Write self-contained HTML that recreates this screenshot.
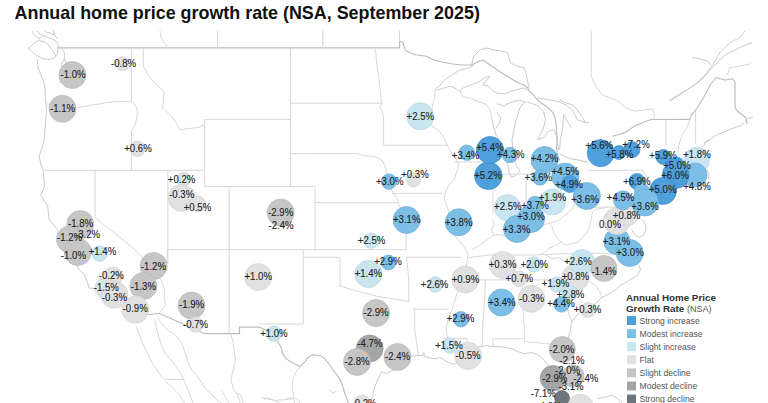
<!DOCTYPE html>
<html><head><meta charset="utf-8"><style>
html,body{margin:0;padding:0;background:#fff;}
body{width:768px;height:403px;overflow:hidden;position:relative;font-family:"Liberation Sans",sans-serif;}
.title{position:absolute;left:14.6px;top:0;font-weight:bold;font-size:17.9px;color:#111;white-space:nowrap;line-height:1;}
svg{position:absolute;left:0;top:0;}
.lb text{font-family:"Liberation Sans",sans-serif;font-size:10.4px;fill:#222;stroke:#222;stroke-width:0.1px;text-anchor:middle;}
.li{font-family:"Liberation Sans",sans-serif;font-size:8.6px;fill:#555;}
.lt{font-family:"Liberation Sans",sans-serif;font-size:9.8px;font-weight:bold;fill:#333;}
</style></head><body>
<svg width="768" height="403" viewBox="0 0 768 403">
<g fill="none" stroke-linejoin="round" stroke-linecap="round"><polyline stroke="#bcbcbc" stroke-width="1.15" points="57.5,47.8 399.6,47.8"/><polyline stroke="#bcbcbc" stroke-width="1.15" points="399.5,47.6 399.5,41.0 402.8,42.5 405.2,50.0 409.0,52.5 416.5,55.0 426.5,56.2 434.0,60.0 444.0,62.5 451.5,63.8 461.5,65.0 471.5,65.0 479.0,61.2 482.8,60.0 497.5,70.0 505.0,75.0 511.2,78.8 517.5,82.5 524.0,85.0 527.7,88.0 529.7,92.0 532.7,94.0 535.7,97.9 539.6,101.9 545.6,105.8 550.6,109.8 553.6,113.8 555.5,119.8 556.5,129.7 557.4,140.0 556.5,148.0 558.0,156.0 559.5,160.0"/><polyline stroke="#bcbcbc" stroke-width="1.15" points="130.2,316.3 159.7,313.5 204.4,333.6 239.5,333.6 239.5,327.1 260.1,327.1"/><polyline stroke="#d8d8d8" stroke-width="1" points="160.0,31.0 161.0,37.5 165.0,43.8 168.0,47.6"/><polyline stroke="#d8d8d8" stroke-width="1" points="217.5,31.0 217.5,47.6"/><polyline stroke="#d8d8d8" stroke-width="1" points="322.8,31.0 322.8,47.6"/><polyline stroke="#d8d8d8" stroke-width="1" points="399.5,31.0 399.5,41.0"/><polyline stroke="#d8d8d8" stroke-width="1" points="591.2,31.5 591.2,76.2 595.0,85.0 602.5,95.0 612.5,98.8 620.0,102.5 625.0,107.5 635.0,111.2 645.0,110.0 652.5,108.8 654.5,115.0 654.0,119.3"/><polyline stroke="#bcbcbc" stroke-width="1.15" points="612.9,136.0 619.9,134.3 625.0,132.6 630.3,129.0 635.5,125.6 644.0,122.0 651.0,119.5 689.5,119.4"/><polyline stroke="#bcbcbc" stroke-width="1.15" points="689.5,119.4 692.5,113.8 697.5,107.5 705.0,95.0 710.0,85.0 716.2,77.5 720.0,78.8 725.0,80.0 732.5,78.8 735.0,82.5 735.0,107.5 737.5,111.2 742.5,115.0 746.0,118.0 747.0,124.0"/><polyline stroke="#c4c4c4" stroke-width="0.9" points="670.0,100.0 680.0,93.8 695.0,85.0 705.0,75.0 712.5,65.0 720.0,52.5 730.0,42.5 740.0,37.5 745.0,31.0"/><polyline stroke="#c4c4c4" stroke-width="0.9" points="670.0,101.2 685.0,91.2 700.0,81.2 715.0,65.0 725.0,55.0 740.0,47.5 752.0,42.5"/><polyline stroke="#c4c4c4" stroke-width="0.9" points="692.5,57.5 700.0,58.8 707.5,61.2 711.2,65.0"/><polyline stroke="#d8d8d8" stroke-width="1" points="727.5,75.0 730.0,67.5 740.0,66.2 750.0,63.8"/><polyline stroke="#c4c4c4" stroke-width="0.9" points="537.7,97.9 549.6,99.9 559.5,101.9 567.5,105.8 573.4,111.8 577.4,119.8 583.4,121.8 588.4,122.7"/><polyline stroke="#c4c4c4" stroke-width="0.9" points="560.0,100.0 565.0,102.5 572.5,105.0 577.5,110.0 582.5,117.5 585.0,122.5"/><polyline stroke="#c4c4c4" stroke-width="0.9" points="563.5,113.8 567.5,121.8 571.4,127.7"/><polyline stroke="#c4c4c4" stroke-width="0.9" points="563.5,115.8 562.5,129.7 560.5,139.6 559.5,149.6"/><polyline stroke="#c4c4c4" stroke-width="0.9" points="559.0,153.4 569.5,158.6 580.0,160.3 587.0,162.0"/><polyline stroke="#c4c4c4" stroke-width="0.9" points="37.1,59.3 38.2,68.1 42.5,79.0 44.7,85.3 45.3,91.5 45.3,97.2 46.5,110.9 45.2,126.0 44.4,138.5 42.2,147.4 39.0,156.3 40.8,163.7 43.2,170.3 43.5,174.4 44.4,186.6 40.9,195.7 47.7,205.9 49.1,219.4 57.5,229.5 58.2,234.2 64.2,237.6 65.0,242.6 70.2,250.3 72.9,252.7 71.6,255.8 76.6,264.9 79.2,269.9 84.4,274.4 87.1,281.4 89.2,288.1 98.6,288.7 103.6,290.8 109.9,294.3 113.3,294.8 114.3,298.2 117.0,298.5 120.7,300.7 123.1,302.7 127.1,306.5 128.4,311.6 130.2,316.3"/><polyline stroke="#d8d8d8" stroke-width="1" points="46.0,103.8 62.0,106.0 77.5,107.5 100.0,103.8 110.0,102.0 131.5,101.2"/><polyline stroke="#d8d8d8" stroke-width="1" points="131.5,47.6 131.5,101.2 135.0,105.0 137.5,110.0 137.0,117.5 135.0,125.0 131.5,131.0 131.5,170.2"/><polyline stroke="#d8d8d8" stroke-width="1" points="143.2,47.8 143.2,66.0 146.0,70.7 148.3,75.4 154.2,82.5 161.3,89.5 164.2,91.9 163.2,101.3 162.5,108.4 166.0,110.8 170.8,115.5 175.5,121.4 180.2,129.6 189.6,128.4 199.0,127.3 203.8,124.9 204.7,128.2"/><polyline stroke="#d8d8d8" stroke-width="1" points="43.5,170.3 204.7,170.3"/><polyline stroke="#d8d8d8" stroke-width="1" points="204.7,119.6 204.7,186.6 315.0,186.6 315.0,202.7 397.6,202.7"/><polyline stroke="#d8d8d8" stroke-width="1" points="204.7,119.6 290.5,119.6"/><polyline stroke="#d8d8d8" stroke-width="1" points="290.5,47.8 290.5,186.6"/><polyline stroke="#d8d8d8" stroke-width="1" points="290.5,103.2 382.3,103.2"/><polyline stroke="#d8d8d8" stroke-width="1" points="229.2,186.6 229.2,333.6"/><polyline stroke="#d8d8d8" stroke-width="1" points="167.9,170.3 167.9,249.7 167.9,263.4"/><polyline stroke="#d8d8d8" stroke-width="1" points="167.9,249.7 406.1,249.7"/><polyline stroke="#d8d8d8" stroke-width="1" points="315.0,202.7 315.0,249.7"/><polyline stroke="#d8d8d8" stroke-width="1" points="303.3,249.7 303.3,324.0 259.0,324.0"/><polyline stroke="#d8d8d8" stroke-width="1" points="303.3,257.3 340.1,257.3 340.1,286.5"/><polyline stroke="#d8d8d8" stroke-width="1" points="95.0,170.2 95.0,217.5 107.5,227.5 120.0,237.5 132.5,247.5 142.5,257.5 152.0,267.0 161.0,280.0 165.0,290.0 163.8,297.5 165.5,305.0 160.0,312.5 161.2,314.3"/><polyline stroke="#d8d8d8" stroke-width="1" points="167.6,249.5 167.6,262.0 165.0,270.0"/><polyline stroke="#d8d8d8" stroke-width="1" points="136.2,326.2 139.6,335.4 143.1,344.6 147.7,353.9 152.3,363.1 157.0,370.0 161.6,377.0 166.2,381.6 173.1,388.5 180.0,395.5 184.7,403.0"/><polyline stroke="#d8d8d8" stroke-width="1" points="154.6,319.2 157.0,330.8 160.4,342.3 165.0,353.9 169.7,358.5 175.4,365.4 180.0,372.4 182.4,377.0 186.0,385.0 190.0,395.0 193.0,403.0"/><polyline stroke="#d8d8d8" stroke-width="1" points="157.5,318.0 162.0,324.0 166.2,328.5 169.7,331.9 173.1,333.1 177.7,337.7 182.4,344.6 184.7,351.6 187.0,358.5 189.3,365.4 191.6,370.0 196.2,374.7 200.8,381.6 205.5,388.5 210.0,393.1 217.0,400.0 221.6,403.0"/><polyline stroke="#d8d8d8" stroke-width="1" points="166.2,379.3 182.4,379.3"/><polyline stroke="#d8d8d8" stroke-width="1" points="230.9,334.3 233.2,342.3 234.3,351.6 235.5,360.8 233.2,370.0 230.9,379.3 233.2,388.5 237.8,395.5 240.1,403.0"/><polyline stroke="#d8d8d8" stroke-width="1" points="221.6,390.8 226.2,397.8 229.0,403.0"/><polyline stroke="#d8d8d8" stroke-width="1" points="262.5,398.0 275.0,400.5 292.0,399.0"/><polyline stroke="#d8d8d8" stroke-width="1" points="374.5,47.6 375.8,52.5 377.0,67.5 379.5,82.5 380.8,97.5 381.7,103.2 380.0,107.0 382.5,112.0 383.6,117.4 383.6,145.3 447.7,145.3"/><polyline stroke="#d8d8d8" stroke-width="1" points="290.5,153.7 357.4,153.5 362.6,155.6 374.7,156.4 381.7,160.0 385.0,166.0 387.0,172.0 389.0,185.0 391.5,190.0 396.5,197.5 399.0,205.0 401.0,210.0 404.0,215.0 406.0,219.0 406.1,225.0 406.1,249.7"/><polyline stroke="#d8d8d8" stroke-width="1" points="392.0,193.4 441.5,193.4"/><polyline stroke="#c4c4c4" stroke-width="0.9" points="435.0,90.0 440.0,85.0 446.2,78.8 455.0,73.0 460.0,70.0 469.0,68.0 474.0,65.0"/><polyline stroke="#c4c4c4" stroke-width="0.9" points="471.5,65.0 474.0,56.0 480.0,50.0 486.5,48.0 494.0,50.0 501.5,51.0 507.8,52.5 510.0,62.5 516.5,66.0 524.0,67.5 526.5,75.0 527.8,82.5 529.0,87.5"/><polyline stroke="#c4c4c4" stroke-width="0.9" points="437.5,90.0 450.0,86.2 453.8,87.5 460.0,91.2 463.8,87.5 471.2,85.0 480.0,81.2 485.0,77.5 490.0,76.2 482.5,85.0 487.5,85.6 492.5,90.0 496.2,93.0 505.0,93.8 511.2,91.2 517.5,89.4 523.8,88.0 527.0,90.0"/><polyline stroke="#d8d8d8" stroke-width="1" points="435.0,90.0 435.0,95.0 433.8,101.2 432.5,105.0 431.0,115.0 432.0,126.0 439.0,131.0 444.0,138.0 447.6,145.5 451.5,152.5 456.5,160.0 459.0,165.0 456.5,172.5 454.0,180.0 449.0,185.0 446.5,190.0 444.0,197.5 446.5,205.0 449.0,212.5 450.0,220.0 452.0,228.0 455.0,236.0 460.0,242.0 465.0,248.0 468.0,255.0 467.0,262.0 465.0,270.0 462.0,280.0 458.0,290.0 455.0,300.0 452.0,310.0 448.0,320.0 446.0,330.0 448.0,340.0"/><polyline stroke="#d8d8d8" stroke-width="1" points="460.0,91.2 462.5,96.2 471.2,98.8 480.0,102.0 485.0,103.8 488.8,107.5 491.2,113.8 492.0,120.0"/><polyline stroke="#c4c4c4" stroke-width="0.9" points="497.5,103.8 503.8,106.2 507.5,103.8 515.0,101.2 520.0,100.0 526.0,102.5"/><polyline stroke="#c4c4c4" stroke-width="0.9" points="492.0,120.0 494.0,128.0 496.0,135.0 499.0,140.0 502.0,148.0 505.0,155.0 506.5,161.0 507.8,165.0 509.0,172.5 511.5,177.5 516.5,175.0 520.0,171.2 516.0,165.0 514.0,158.0 513.0,150.0 512.0,140.0 514.0,130.0 516.0,120.0 519.8,108.0 524.0,102.5"/><polyline stroke="#c4c4c4" stroke-width="0.9" points="497.0,112.0 501.0,118.0 499.0,124.0 496.0,128.0"/><polyline stroke="#c4c4c4" stroke-width="0.9" points="527.7,101.9 537.7,105.8 543.6,111.8 545.6,119.8 543.6,127.7 539.6,135.7 537.7,139.6 543.6,137.7 547.6,131.7 553.6,129.7 556.5,135.7 557.5,143.6 558.5,149.6"/><polyline stroke="#d8d8d8" stroke-width="1" points="454.9,162.0 489.7,162.0"/><polyline stroke="#d8d8d8" stroke-width="1" points="497.0,174.2 526.4,174.2 543.0,175.2"/><polyline stroke="#d8d8d8" stroke-width="1" points="493.0,174.2 493.0,213.0"/><polyline stroke="#d8d8d8" stroke-width="1" points="526.2,175.2 526.2,217.0"/><polyline stroke="#d8d8d8" stroke-width="1" points="472.7,249.5 480.0,245.0 487.0,240.0 492.0,236.0 497.0,234.5 501.5,235.0 509.0,237.5 519.0,235.0 529.0,232.5 539.0,227.5 544.9,224.2 549.3,223.5 553.8,222.0 559.8,219.8 562.7,216.8 568.7,212.3 573.2,207.9 578.9,192.4"/><polyline stroke="#d8d8d8" stroke-width="1" points="492.8,220.0 494.0,225.0 491.5,230.0 494.0,235.0"/><polyline stroke="#d8d8d8" stroke-width="1" points="578.9,170.3 578.9,192.4 578.9,207.2 636.9,207.2"/><polyline stroke="#d8d8d8" stroke-width="1" points="588.2,170.3 642.2,170.3"/><polyline stroke="#d8d8d8" stroke-width="1" points="642.4,169.9 644.2,172.5 647.6,179.4 650.0,185.0"/><polyline stroke="#d8d8d8" stroke-width="1" points="549.3,223.5 552.3,227.2 553.8,233.2 556.8,237.6 561.3,242.1 565.7,245.1 571.7,243.6 577.6,242.1 582.1,237.6 586.5,233.2 589.5,227.2 591.0,219.8 592.5,212.3 595.5,209.3 604.4,207.9 607.4,207.1"/><polyline stroke="#d8d8d8" stroke-width="1" points="561.3,242.1 556.8,245.0 549.3,248.0 545.0,252.0 540.0,254.5"/><polyline stroke="#d8d8d8" stroke-width="1" points="469.0,257.5 489.0,255.0 514.0,255.0 534.0,255.0 545.0,254.5 559.0,253.8 580.0,253.5 605.0,253.2 635.5,256.5"/><polyline stroke="#d8d8d8" stroke-width="1" points="545.0,254.5 552.0,259.0 559.0,257.5 565.0,262.0 569.0,262.5 576.0,265.0 578.0,270.0 575.0,277.0"/><polyline stroke="#d8d8d8" stroke-width="1" points="460.2,279.9 532.3,279.9 547.3,279.9"/><polyline stroke="#d8d8d8" stroke-width="1" points="589.8,281.7 595.8,285.6 599.8,291.6 601.7,297.5"/><polyline stroke="#d8d8d8" stroke-width="1" points="547.3,279.9 556.0,285.0 562.0,292.0 567.3,308.0 569.3,315.9 572.0,322.0"/><polyline stroke="#d8d8d8" stroke-width="1" points="406.1,257.3 460.9,257.3"/><polyline stroke="#d8d8d8" stroke-width="1" points="406.5,257.5 407.8,270.0 408.8,280.0 408.8,301.8"/><polyline stroke="#d8d8d8" stroke-width="1" points="380.0,296.9 386.0,297.9 391.9,298.8 399.8,299.8 405.8,300.8 408.8,301.8"/><polyline stroke="#d8d8d8" stroke-width="1" points="340.0,286.0 350.0,289.0 360.0,292.0 370.0,294.5 380.0,296.9"/><polyline stroke="#d8d8d8" stroke-width="1" points="413.2,309.2 448.5,309.2"/><polyline stroke="#d8d8d8" stroke-width="1" points="414.7,308.8 414.7,329.6 415.7,335.6 416.7,343.5 417.7,351.4 418.3,355.0"/><polyline stroke="#d8d8d8" stroke-width="1" points="485.5,280.0 484.5,300.0 483.0,320.0 482.0,346.5"/><polyline stroke="#d8d8d8" stroke-width="1" points="522.7,280.0 522.7,300.0 523.6,319.8 524.6,329.8 524.6,341.7 547.5,343.6 553.0,345.0 560.0,346.0"/><polyline stroke="#d8d8d8" stroke-width="1" points="492.9,345.6 492.9,338.7 522.7,338.7"/><polyline stroke="#d8d8d8" stroke-width="1" points="444.0,338.5 467.0,338.5 468.0,345.0 470.0,350.0"/><polyline stroke="#c4c4c4" stroke-width="0.9" points="371.3,403.0 372.4,396.3 374.4,388.0 377.5,379.8 381.6,371.5 386.2,373.6 391.0,371.2 398.0,368.0 405.0,362.0 411.2,356.4 417.5,355.6 422.2,355.6 423.8,352.5 424.5,356.4 430.0,358.0 436.2,358.8 439.4,357.2 442.5,358.8 445.6,361.0 450.3,363.4 455.0,364.2 460.0,362.0 466.0,358.0 472.0,350.0 477.0,347.0 481.2,346.5 487.1,345.5 491.1,346.5 499.8,346.6 505.8,347.6 511.7,348.6 517.7,351.6 523.6,353.6 531.6,352.6 537.5,354.6 541.5,357.5 545.5,361.5 548.5,365.5 550.4,369.4 551.0,375.0"/><polyline stroke="#c4c4c4" stroke-width="0.9" points="568.3,343.6 567.3,339.7 570.3,331.7 571.3,321.8 576.0,316.0 581.2,311.9 587.1,307.9 595.1,304.0 599.0,300.0 601.7,297.5 605.7,295.6 609.7,293.6 615.6,289.6 619.6,285.6 623.6,283.7 627.5,281.7 629.5,279.7 633.5,277.7 637.5,275.7 640.4,269.8 639.4,265.8 636.0,262.0"/><polyline stroke="#c4c4c4" stroke-width="0.9" points="568.3,343.6 570.0,355.0 573.0,365.0"/><polyline stroke="#c4c4c4" stroke-width="0.9" points="598.0,398.8 605.2,397.0 612.5,395.2 618.0,398.8 621.5,402.4"/><polyline stroke="#c4c4c4" stroke-width="0.9" points="642.3,219.8 645.3,224.2 646.0,228.7 643.8,234.6 639.3,237.6 634.9,234.6 631.9,230.2"/><polyline stroke="#d8d8d8" stroke-width="1" points="665.9,119.0 665.9,145.0"/><polyline stroke="#d8d8d8" stroke-width="1" points="692.0,112.6 690.3,118.7 686.9,127.4 681.7,136.0 679.0,144.7 678.2,151.7"/><polyline stroke="#d8d8d8" stroke-width="1" points="695.6,112.0 695.6,143.0"/><polyline stroke="#c4c4c4" stroke-width="0.9" points="704.2,143.0 709.4,139.5 718.0,134.3 726.8,130.8 735.5,127.4 740.7,125.6 744.2,122.2 747.6,118.7 752.8,117.0"/><polyline stroke="#c4c4c4" stroke-width="0.9" points="702.3,147.4 706.8,141.5 709.8,140.0"/><polyline stroke="#c4c4c4" stroke-width="0.9" points="706.8,169.8 709.0,174.2 708.3,178.7"/><polyline stroke="#bcbcbc" stroke-width="1.15" points="260.2,327.5 266.0,330.0 272.0,334.0 276.0,338.0 278.2,342.3 281.3,347.8 282.9,354.1 286.0,358.8 293.8,363.4 300.0,366.6 304.8,361.9 307.9,357.2 312.6,354.8 320.4,355.6 325.0,358.8 329.8,365.0 332.9,369.7 336.3,374.0 340.4,379.8 342.5,386.0 344.5,392.2 346.6,398.4 348.7,403.0"/><polyline stroke="#d8d8d8" stroke-width="1" points="300.0,366.6 295.4,372.8 293.0,379.0 292.2,386.9 293.0,393.1 293.8,399.4 294.6,403.0"/><polyline stroke="#d8d8d8" stroke-width="1" points="264.1,399.4 267.2,397.8 272.0,399.4 276.6,401.7 279.8,403.0"/><polyline stroke="#d8d8d8" stroke-width="1" points="286.0,399.4 289.1,397.8 295.4,398.6 298.5,400.9 300.0,403.0"/><polyline stroke="#d8d8d8" stroke-width="1" points="329.8,390.0 332.9,393.1 336.0,391.6"/><polyline stroke="#d8d8d8" stroke-width="1" points="236.0,393.1 240.7,394.7 242.2,399.4 243.0,403.0"/><polyline stroke="#c4c4c4" stroke-width="0.9" points="28.4,48.5 31.2,50.7 34.5,54.0 37.9,56.3 42.3,58.5 47.9,59.6 53.5,58.5 55.8,56.3 57.5,53.0 58.0,49.0"/><polyline stroke="#c4c4c4" stroke-width="0.9" points="28.4,48.5 32.3,45.1 35.6,41.8 39.0,40.6 44.6,41.8 49.0,45.1 51.3,48.5 53.5,51.8 55.8,56.3"/><polyline stroke="#c4c4c4" stroke-width="0.9" points="32.3,31.7 34.0,34.5 36.8,37.3 40.0,38.5 42.0,36.0"/><polyline stroke="#c4c4c4" stroke-width="0.9" points="37.0,31.0 40.0,34.0 44.0,36.0 48.0,37.5 52.0,39.0 56.0,41.0 58.0,44.0 59.0,47.6"/><polyline stroke="#c4c4c4" stroke-width="0.9" points="45.0,31.0 47.0,33.0 50.0,32.5 53.0,35.0 55.0,33.0"/><polyline stroke="#c4c4c4" stroke-width="0.9" points="53.0,30.0 55.0,36.0 57.0,38.0"/><polyline stroke="#c4c4c4" stroke-width="0.9" points="64.3,58.9 61.2,64.4 64.3,73.5 63.1,79.0 59.4,82.6"/><polyline stroke="#c4c4c4" stroke-width="0.9" points="63.1,82.6 66.1,78.1 65.8,72.6 67.7,66.2 64.3,58.9 64.3,52.4 61.2,47.8"/></g>
<g><circle cx="72.5" cy="75" r="13.5" fill="#c6c6c6" stroke="#b7b7b7" stroke-width="0.7"/><circle cx="62.5" cy="108.8" r="13.5" fill="#c6c6c6" stroke="#b7b7b7" stroke-width="0.7"/><circle cx="122.5" cy="63.8" r="7" fill="#e1e1e1" stroke="#d2d2d2" stroke-width="0.7"/><circle cx="137.5" cy="148.8" r="7.7" fill="#e1e1e1" stroke="#d2d2d2" stroke-width="0.7"/><circle cx="183.6" cy="179.2" r="7" fill="#e1e1e1" stroke="#d2d2d2" stroke-width="0.7"/><circle cx="181.7" cy="197.9" r="13.5" fill="#e1e1e1" stroke="#d2d2d2" stroke-width="0.7"/><circle cx="198" cy="204" r="7.7" fill="#e1e1e1" stroke="#d2d2d2" stroke-width="0.7"/><circle cx="80.3" cy="224" r="13.5" fill="#c6c6c6" stroke="#b7b7b7" stroke-width="0.7"/><circle cx="70" cy="239.5" r="13.5" fill="#c6c6c6" stroke="#b7b7b7" stroke-width="0.7"/><circle cx="77.8" cy="252" r="13.5" fill="#c6c6c6" stroke="#b7b7b7" stroke-width="0.7"/><circle cx="99.7" cy="253.6" r="7.7" fill="#c8e5f0" stroke="#b3d5e8" stroke-width="0.7"/><circle cx="113" cy="276.5" r="9.5" fill="#e1e1e1" stroke="#d2d2d2" stroke-width="0.7"/><circle cx="106" cy="288" r="11" fill="#e1e1e1" stroke="#d2d2d2" stroke-width="0.7"/><circle cx="114.4" cy="294.8" r="13.5" fill="#e1e1e1" stroke="#d2d2d2" stroke-width="0.7"/><circle cx="153.6" cy="266" r="13.5" fill="#c6c6c6" stroke="#b7b7b7" stroke-width="0.7"/><circle cx="143.4" cy="286" r="13.5" fill="#c6c6c6" stroke="#b7b7b7" stroke-width="0.7"/><circle cx="135.2" cy="309.6" r="13.5" fill="#e1e1e1" stroke="#d2d2d2" stroke-width="0.7"/><circle cx="191.5" cy="305.5" r="13.5" fill="#c6c6c6" stroke="#b7b7b7" stroke-width="0.7"/><circle cx="195.6" cy="324.6" r="7.7" fill="#e1e1e1" stroke="#d2d2d2" stroke-width="0.7"/><circle cx="280.7" cy="212.6" r="13.5" fill="#c6c6c6" stroke="#b7b7b7" stroke-width="0.7"/><circle cx="258.2" cy="277" r="13.5" fill="#e1e1e1" stroke="#d2d2d2" stroke-width="0.7"/><circle cx="273.9" cy="333.7" r="7.7" fill="#c8e5f0" stroke="#b3d5e8" stroke-width="0.7"/><circle cx="420.3" cy="116.3" r="13.5" fill="#c8e5f0" stroke="#b3d5e8" stroke-width="0.7"/><circle cx="389" cy="181.6" r="7.7" fill="#7bbfe7" stroke="#6eaad6" stroke-width="0.7"/><circle cx="413.6" cy="180" r="7" fill="#e1e1e1" stroke="#d2d2d2" stroke-width="0.7"/><circle cx="406.6" cy="220" r="13.5" fill="#7bbfe7" stroke="#6eaad6" stroke-width="0.7"/><circle cx="371.3" cy="240.6" r="7.7" fill="#c8e5f0" stroke="#b3d5e8" stroke-width="0.7"/><circle cx="368.4" cy="274" r="13.5" fill="#c8e5f0" stroke="#b3d5e8" stroke-width="0.7"/><circle cx="388.4" cy="262.5" r="7.4" fill="#7bbfe7" stroke="#6eaad6" stroke-width="0.7"/><circle cx="458.7" cy="222.3" r="13.5" fill="#7bbfe7" stroke="#6eaad6" stroke-width="0.7"/><circle cx="376" cy="313" r="13.5" fill="#c6c6c6" stroke="#b7b7b7" stroke-width="0.7"/><circle cx="369.7" cy="348.5" r="13.5" fill="#a3a5a7" stroke="#959799" stroke-width="0.7"/><circle cx="357" cy="361.9" r="13.5" fill="#c6c6c6" stroke="#b7b7b7" stroke-width="0.7"/><circle cx="397.5" cy="357" r="13.5" fill="#c6c6c6" stroke="#b7b7b7" stroke-width="0.7"/><circle cx="362" cy="403" r="8" fill="#e1e1e1" stroke="#d2d2d2" stroke-width="0.7"/><circle cx="435.3" cy="284.5" r="7.7" fill="#c8e5f0" stroke="#b3d5e8" stroke-width="0.7"/><circle cx="465.3" cy="279.5" r="13.5" fill="#e1e1e1" stroke="#d2d2d2" stroke-width="0.7"/><circle cx="460.9" cy="319.2" r="7.7" fill="#7bbfe7" stroke="#6eaad6" stroke-width="0.7"/><circle cx="450.2" cy="345.5" r="7.7" fill="#c8e5f0" stroke="#b3d5e8" stroke-width="0.7"/><circle cx="468.1" cy="355.8" r="13.5" fill="#e1e1e1" stroke="#d2d2d2" stroke-width="0.7"/><circle cx="466.8" cy="152.7" r="7.7" fill="#7bbfe7" stroke="#6eaad6" stroke-width="0.7"/><circle cx="488.3" cy="175.8" r="13.8" fill="#4ea0dc" stroke="#3f8bc6" stroke-width="0.7"/><circle cx="490" cy="150" r="13.5" fill="#4ea0dc" stroke="#3f8bc6" stroke-width="0.7"/><circle cx="510" cy="155" r="7.7" fill="#7bbfe7" stroke="#6eaad6" stroke-width="0.7"/><circle cx="507.5" cy="207.5" r="13.1" fill="#c8e5f0" stroke="#b3d5e8" stroke-width="0.7"/><circle cx="552.5" cy="202" r="13" fill="#c8e5f0" stroke="#b3d5e8" stroke-width="0.7"/><circle cx="517" cy="229" r="13.5" fill="#7bbfe7" stroke="#6eaad6" stroke-width="0.7"/><circle cx="531" cy="219" r="13.5" fill="#7bbfe7" stroke="#6eaad6" stroke-width="0.7"/><circle cx="535" cy="204" r="7.7" fill="#7bbfe7" stroke="#6eaad6" stroke-width="0.7"/><circle cx="502.8" cy="265" r="13.5" fill="#e1e1e1" stroke="#d2d2d2" stroke-width="0.7"/><circle cx="534" cy="264.5" r="7.7" fill="#c8e5f0" stroke="#b3d5e8" stroke-width="0.7"/><circle cx="519" cy="278.8" r="7.7" fill="#e1e1e1" stroke="#d2d2d2" stroke-width="0.7"/><circle cx="501.5" cy="302.5" r="13.5" fill="#7bbfe7" stroke="#6eaad6" stroke-width="0.7"/><circle cx="531.5" cy="298.8" r="13.5" fill="#e1e1e1" stroke="#d2d2d2" stroke-width="0.7"/><circle cx="575.5" cy="277.5" r="13.5" fill="#e1e1e1" stroke="#d2d2d2" stroke-width="0.7"/><circle cx="582" cy="262" r="12.5" fill="#c8e5f0" stroke="#b3d5e8" stroke-width="0.7"/><circle cx="557" cy="284.5" r="7.7" fill="#c8e5f0" stroke="#b3d5e8" stroke-width="0.7"/><circle cx="570" cy="293" r="7.7" fill="#c8e5f0" stroke="#b3d5e8" stroke-width="0.7"/><circle cx="561.5" cy="304.4" r="7.7" fill="#7bbfe7" stroke="#6eaad6" stroke-width="0.7"/><circle cx="588" cy="310" r="7.5" fill="#e1e1e1" stroke="#d2d2d2" stroke-width="0.7"/><circle cx="604" cy="268.5" r="13" fill="#c6c6c6" stroke="#b7b7b7" stroke-width="0.7"/><circle cx="617" cy="241.5" r="13.1" fill="#7bbfe7" stroke="#6eaad6" stroke-width="0.7"/><circle cx="629.7" cy="253" r="13.5" fill="#7bbfe7" stroke="#6eaad6" stroke-width="0.7"/><circle cx="617" cy="221" r="13.5" fill="#e1e1e1" stroke="#d2d2d2" stroke-width="0.7"/><circle cx="628" cy="215" r="10.5" fill="#e1e1e1" stroke="#d2d2d2" stroke-width="0.7"/><circle cx="544.6" cy="160" r="13.5" fill="#7bbfe7" stroke="#6eaad6" stroke-width="0.7"/><circle cx="540" cy="177.5" r="7.7" fill="#7bbfe7" stroke="#6eaad6" stroke-width="0.7"/><circle cx="565.3" cy="176.5" r="13.5" fill="#7bbfe7" stroke="#6eaad6" stroke-width="0.7"/><circle cx="570" cy="184" r="8.5" fill="#4ea0dc" stroke="#3f8bc6" stroke-width="0.7"/><circle cx="586.9" cy="196" r="13.5" fill="#7bbfe7" stroke="#6eaad6" stroke-width="0.7"/><circle cx="600.7" cy="153.1" r="13.5" fill="#4ea0dc" stroke="#3f8bc6" stroke-width="0.7"/><circle cx="619" cy="152.5" r="7" fill="#4ea0dc" stroke="#3f8bc6" stroke-width="0.7"/><circle cx="632" cy="149.7" r="8" fill="#4ea0dc" stroke="#3f8bc6" stroke-width="0.7"/><circle cx="663.5" cy="157" r="7.5" fill="#4ea0dc" stroke="#3f8bc6" stroke-width="0.7"/><circle cx="697" cy="159.8" r="12.5" fill="#c8e5f0" stroke="#b3d5e8" stroke-width="0.7"/><circle cx="695" cy="175" r="12" fill="#7bbfe7" stroke="#6eaad6" stroke-width="0.7"/><circle cx="675.7" cy="175" r="13.5" fill="#4ea0dc" stroke="#3f8bc6" stroke-width="0.7"/><circle cx="676" cy="166" r="9" fill="#4ea0dc" stroke="#3f8bc6" stroke-width="0.7"/><circle cx="663" cy="191" r="13.5" fill="#4ea0dc" stroke="#3f8bc6" stroke-width="0.7"/><circle cx="637" cy="181.5" r="8" fill="#4ea0dc" stroke="#3f8bc6" stroke-width="0.7"/><circle cx="642" cy="191" r="7.5" fill="#7bbfe7" stroke="#6eaad6" stroke-width="0.7"/><circle cx="645" cy="202.5" r="13.5" fill="#7bbfe7" stroke="#6eaad6" stroke-width="0.7"/><circle cx="623" cy="200.3" r="9.5" fill="#7bbfe7" stroke="#6eaad6" stroke-width="0.7"/><circle cx="562.3" cy="349.5" r="13" fill="#c6c6c6" stroke="#b7b7b7" stroke-width="0.7"/><circle cx="573" cy="376" r="11" fill="#c6c6c6" stroke="#b7b7b7" stroke-width="0.7"/><circle cx="553" cy="378.3" r="12.8" fill="#a3a5a7" stroke="#959799" stroke-width="0.7"/><circle cx="562" cy="398" r="7.5" fill="#6f767b" stroke="#63696e" stroke-width="0.7"/><circle cx="580.5" cy="407" r="12.7" fill="#e1e1e1" stroke="#d2d2d2" stroke-width="0.7"/></g>
<g class="lb"><text x="73" y="78.44" textLength="25.08" lengthAdjust="spacingAndGlyphs">-1.0%</text><text x="62.5" y="112.24" textLength="25.08" lengthAdjust="spacingAndGlyphs">-1.1%</text><text x="123.5" y="67.24" textLength="25.08" lengthAdjust="spacingAndGlyphs">-0.8%</text><text x="138" y="152.24" textLength="27.48" lengthAdjust="spacingAndGlyphs">+0.6%</text><text x="181.6" y="182.94" textLength="27.48" lengthAdjust="spacingAndGlyphs">+0.2%</text><text x="181.7" y="198.14" textLength="25.08" lengthAdjust="spacingAndGlyphs">-0.3%</text><text x="197.5" y="211.14" textLength="27.48" lengthAdjust="spacingAndGlyphs">+0.5%</text><text x="80.6" y="227.24" textLength="25.08" lengthAdjust="spacingAndGlyphs">-1.8%</text><text x="69.6" y="241.44" textLength="25.08" lengthAdjust="spacingAndGlyphs">-1.2%</text><text x="73.4" y="259.04" textLength="25.08" lengthAdjust="spacingAndGlyphs">-1.0%</text><text x="102.5" y="254.74" textLength="27.48" lengthAdjust="spacingAndGlyphs">+1.4%</text><text x="111.3" y="279.04" textLength="25.08" lengthAdjust="spacingAndGlyphs">-0.2%</text><text x="114.4" y="301.44" textLength="25.08" lengthAdjust="spacingAndGlyphs">-0.3%</text><text x="153.4" y="269.64" textLength="25.08" lengthAdjust="spacingAndGlyphs">-1.2%</text><text x="143.4" y="289.64" textLength="25.08" lengthAdjust="spacingAndGlyphs">-1.3%</text><text x="135.2" y="311.94" textLength="25.08" lengthAdjust="spacingAndGlyphs">-0.9%</text><text x="191.5" y="308.44" textLength="25.08" lengthAdjust="spacingAndGlyphs">-1.9%</text><text x="195.6" y="328.04" textLength="25.08" lengthAdjust="spacingAndGlyphs">-0.7%</text><text x="280.7" y="216.44" textLength="25.08" lengthAdjust="spacingAndGlyphs">-2.9%</text><text x="258.2" y="280.44" textLength="27.48" lengthAdjust="spacingAndGlyphs">+1.0%</text><text x="273.9" y="337.14" textLength="27.48" lengthAdjust="spacingAndGlyphs">+1.0%</text><text x="420.3" y="119.74" textLength="27.48" lengthAdjust="spacingAndGlyphs">+2.5%</text><text x="389.7" y="184.74" textLength="27.48" lengthAdjust="spacingAndGlyphs">+3.0%</text><text x="415" y="177.84" textLength="27.48" lengthAdjust="spacingAndGlyphs">+0.3%</text><text x="406.7" y="223.44" textLength="27.48" lengthAdjust="spacingAndGlyphs">+3.1%</text><text x="371.6" y="244.04" textLength="27.48" lengthAdjust="spacingAndGlyphs">+2.5%</text><text x="368.4" y="277.24" textLength="27.48" lengthAdjust="spacingAndGlyphs">+1.4%</text><text x="388" y="265.34" textLength="27.48" lengthAdjust="spacingAndGlyphs">+2.9%</text><text x="458.7" y="225.74" textLength="27.48" lengthAdjust="spacingAndGlyphs">+3.8%</text><text x="376" y="316.44" textLength="25.08" lengthAdjust="spacingAndGlyphs">-2.9%</text><text x="369.9" y="346.64" textLength="25.08" lengthAdjust="spacingAndGlyphs">-4.7%</text><text x="357" y="364.84" textLength="25.08" lengthAdjust="spacingAndGlyphs">-2.8%</text><text x="397.5" y="360.44" textLength="25.08" lengthAdjust="spacingAndGlyphs">-2.4%</text><text x="364" y="406.94" textLength="25.08" lengthAdjust="spacingAndGlyphs">-0.2%</text><text x="434.6" y="287.94" textLength="27.48" lengthAdjust="spacingAndGlyphs">+2.6%</text><text x="465.5" y="282.94" textLength="27.48" lengthAdjust="spacingAndGlyphs">+0.9%</text><text x="460.5" y="322.44" textLength="27.48" lengthAdjust="spacingAndGlyphs">+2.9%</text><text x="449" y="348.94" textLength="27.48" lengthAdjust="spacingAndGlyphs">+1.5%</text><text x="468" y="359.24" textLength="25.08" lengthAdjust="spacingAndGlyphs">-0.5%</text><text x="465.6" y="158.74" textLength="27.48" lengthAdjust="spacingAndGlyphs">+3.4%</text><text x="488" y="178.94" textLength="27.48" lengthAdjust="spacingAndGlyphs">+5.2%</text><text x="490" y="151.34" textLength="27.48" lengthAdjust="spacingAndGlyphs">+5.4%</text><text x="510.8" y="158.04" textLength="27.48" lengthAdjust="spacingAndGlyphs">+4.3%</text><text x="507.8" y="210.34" textLength="27.48" lengthAdjust="spacingAndGlyphs">+2.5%</text><text x="552.5" y="200.94" textLength="27.48" lengthAdjust="spacingAndGlyphs">+1.9%</text><text x="516.5" y="232.94" textLength="27.48" lengthAdjust="spacingAndGlyphs">+3.3%</text><text x="531" y="220.34" textLength="27.48" lengthAdjust="spacingAndGlyphs">+3.0%</text><text x="535" y="209.04" textLength="27.48" lengthAdjust="spacingAndGlyphs">+3.7%</text><text x="502.5" y="268.44" textLength="27.48" lengthAdjust="spacingAndGlyphs">+0.3%</text><text x="534.4" y="267.94" textLength="27.48" lengthAdjust="spacingAndGlyphs">+2.0%</text><text x="519.3" y="282.24" textLength="27.48" lengthAdjust="spacingAndGlyphs">+0.7%</text><text x="501.9" y="305.94" textLength="27.48" lengthAdjust="spacingAndGlyphs">+3.4%</text><text x="531.5" y="302.24" textLength="25.08" lengthAdjust="spacingAndGlyphs">-0.3%</text><text x="575.4" y="279.74" textLength="27.48" lengthAdjust="spacingAndGlyphs">+0.8%</text><text x="578" y="265.34" textLength="27.48" lengthAdjust="spacingAndGlyphs">+2.6%</text><text x="555.6" y="287.44" textLength="27.48" lengthAdjust="spacingAndGlyphs">+1.9%</text><text x="570.6" y="297.84" textLength="27.48" lengthAdjust="spacingAndGlyphs">+2.8%</text><text x="561" y="307.24" textLength="27.48" lengthAdjust="spacingAndGlyphs">+4.4%</text><text x="587.5" y="313.44" textLength="27.48" lengthAdjust="spacingAndGlyphs">+0.3%</text><text x="604" y="274.74" textLength="25.08" lengthAdjust="spacingAndGlyphs">-1.4%</text><text x="616.6" y="245.34" textLength="27.48" lengthAdjust="spacingAndGlyphs">+3.1%</text><text x="630" y="256.44" textLength="27.48" lengthAdjust="spacingAndGlyphs">+3.0%</text><text x="610" y="227.84" textLength="21.88" lengthAdjust="spacingAndGlyphs">0.0%</text><text x="626.6" y="219.04" textLength="27.48" lengthAdjust="spacingAndGlyphs">+0.8%</text><text x="544.6" y="162.24" textLength="27.48" lengthAdjust="spacingAndGlyphs">+4.2%</text><text x="538.4" y="180.74" textLength="27.48" lengthAdjust="spacingAndGlyphs">+3.6%</text><text x="565.3" y="175.34" textLength="27.48" lengthAdjust="spacingAndGlyphs">+4.5%</text><text x="569" y="188.24" textLength="27.48" lengthAdjust="spacingAndGlyphs">+4.9%</text><text x="585" y="203.44" textLength="27.48" lengthAdjust="spacingAndGlyphs">+3.6%</text><text x="599.3" y="149.04" textLength="27.48" lengthAdjust="spacingAndGlyphs">+5.6%</text><text x="619.5" y="157.94" textLength="27.48" lengthAdjust="spacingAndGlyphs">+5.8%</text><text x="636" y="147.94" textLength="27.48" lengthAdjust="spacingAndGlyphs">+7.2%</text><text x="663" y="159.04" textLength="27.48" lengthAdjust="spacingAndGlyphs">+5.9%</text><text x="697" y="158.34" textLength="27.48" lengthAdjust="spacingAndGlyphs">+1.8%</text><text x="697" y="190.44" textLength="27.48" lengthAdjust="spacingAndGlyphs">+4.8%</text><text x="675" y="179.24" textLength="27.48" lengthAdjust="spacingAndGlyphs">+6.0%</text><text x="677" y="168.74" textLength="27.48" lengthAdjust="spacingAndGlyphs">+5.0%</text><text x="662.7" y="193.44" textLength="27.48" lengthAdjust="spacingAndGlyphs">+5.0%</text><text x="636.9" y="185.34" textLength="27.48" lengthAdjust="spacingAndGlyphs">+6.9%</text><text x="645" y="210.34" textLength="27.48" lengthAdjust="spacingAndGlyphs">+3.6%</text><text x="620.6" y="200.94" textLength="27.48" lengthAdjust="spacingAndGlyphs">+4.5%</text><text x="561.8" y="353.04" textLength="25.08" lengthAdjust="spacingAndGlyphs">-2.0%</text><text x="585.8" y="382.14" textLength="25.08" lengthAdjust="spacingAndGlyphs">-2.4%</text><text x="554.8" y="382.04" textLength="25.08" lengthAdjust="spacingAndGlyphs">-2.9%</text><text x="543.3" y="397.44" textLength="25.08" lengthAdjust="spacingAndGlyphs">-7.1%</text><text x="87.5" y="238.44" textLength="25.08" lengthAdjust="spacingAndGlyphs">-3.2%</text><text x="106.3" y="291.44" textLength="25.08" lengthAdjust="spacingAndGlyphs">-1.5%</text><text x="281" y="229.44" textLength="25.08" lengthAdjust="spacingAndGlyphs">-2.4%</text><text x="572" y="364.44" textLength="25.08" lengthAdjust="spacingAndGlyphs">-2.1%</text><text x="549" y="409.94" textLength="25.08" lengthAdjust="spacingAndGlyphs">-4.0%</text><text x="567.5" y="373.84" textLength="25.08" lengthAdjust="spacingAndGlyphs">-2.0%</text><text x="571" y="390.44" textLength="25.08" lengthAdjust="spacingAndGlyphs">-3.1%</text></g>
<text x="626" y="300.8" class="lt">Annual Home Price</text>
<text x="626" y="312.1" class="lt">Growth Rate <tspan style="font-weight:normal;fill:#555;font-size:9px">(NSA)</tspan></text>
<rect x="627" y="316.0" width="9" height="9" fill="#4ea0dc"/><text x="639.5" y="323.7" class="li">Strong increase</text><rect x="627" y="329.1" width="9" height="9" fill="#7bbfe7"/><text x="639.5" y="336.8" class="li">Modest increase</text><rect x="627" y="342.2" width="9" height="9" fill="#c8e5f0"/><text x="639.5" y="349.9" class="li">Slight increase</text><rect x="627" y="355.3" width="9" height="9" fill="#e1e1e1"/><text x="639.5" y="363.0" class="li">Flat</text><rect x="627" y="368.4" width="9" height="9" fill="#c6c6c6"/><text x="639.5" y="376.1" class="li">Slight decline</text><rect x="627" y="381.5" width="9" height="9" fill="#a3a5a7"/><text x="639.5" y="389.2" class="li">Modest decline</text><rect x="627" y="394.6" width="9" height="9" fill="#6f767b"/><text x="639.5" y="402.3" class="li">Strong decline</text>
</svg>
<div class="title" style="top:5.3px">Annual home price growth rate (NSA, September 2025)</div>
</body></html>
